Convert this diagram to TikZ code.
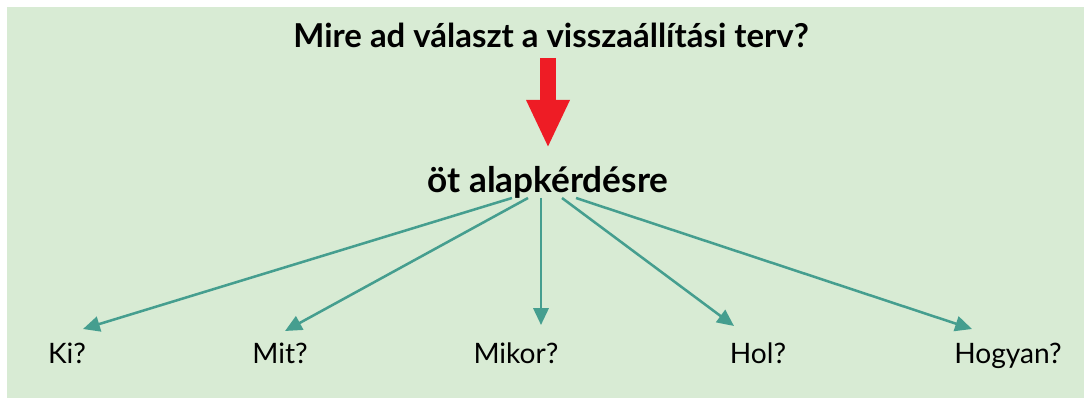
\documentclass[tikz,border=0pt]{standalone}
\usepackage{fontspec}
\setmainfont{Lato}
\usetikzlibrary{arrows.meta,calc}
\definecolor{bggreen}{HTML}{D8EBD4}
\definecolor{qteal}{HTML}{459E8F}
\definecolor{qred}{HTML}{EE1C25}
\begin{document}
\begin{tikzpicture}[x=0.025cm, y=-0.025cm,
  question/.style={inner sep=0pt, anchor=base, font=\fontsize{20}{24}\selectfont},
  heading/.style={inner sep=0pt, anchor=base, font=\fontsize{23.4}{28}\selectfont\bfseries},
  branch/.style={qteal, line width=1.8pt, -{Triangle[length=0.42cm, width=0.38cm]}}]
\useasboundingbox (0,0) rectangle (1084,398);
\fill[bggreen] (7,7) rectangle (1084,398);
\node[heading] (title) at (551,48) {Mire ad választ a visszaállítási terv?};
\node[heading, font=\fontsize{25}{30}\selectfont\bfseries] (five) at (548,193) {öt alapkérdésre};
\node[question] (ki) at (67,364) {Ki?};
\node[question] (mit) at (280,364) {Mit?};
\node[question] (mikor) at (516,364) {Mikor?};
\node[question] (hol) at (758,364) {Hol?};
\node[question] (hogyan) at (1008,364) {Hogyan?};
\draw[qred, line width=0.4cm, -{Triangle[length=1.2cm, width=1.0cm]}] ($(title.base)+(-3,10)$) -- ($(five.base)+(0,-45)$);
\draw[branch] ($(five.base)+(-36,5)$) -- ($(ki.base)+(16,-35)$);
\draw[branch] ($(five.base)+(-20,5)$) -- ($(mit.base)+(5,-33)$);
\draw[branch] ($(five.base)+(-7,5)$) -- ($(mikor.base)+(25,-39)$);
\draw[branch] ($(five.base)+(14,5)$) -- ($(hol.base)+(-24,-38)$);
\draw[branch] ($(five.base)+(28,5)$) -- ($(hogyan.base)+(-36,-35)$);
\end{tikzpicture}
\end{document}
